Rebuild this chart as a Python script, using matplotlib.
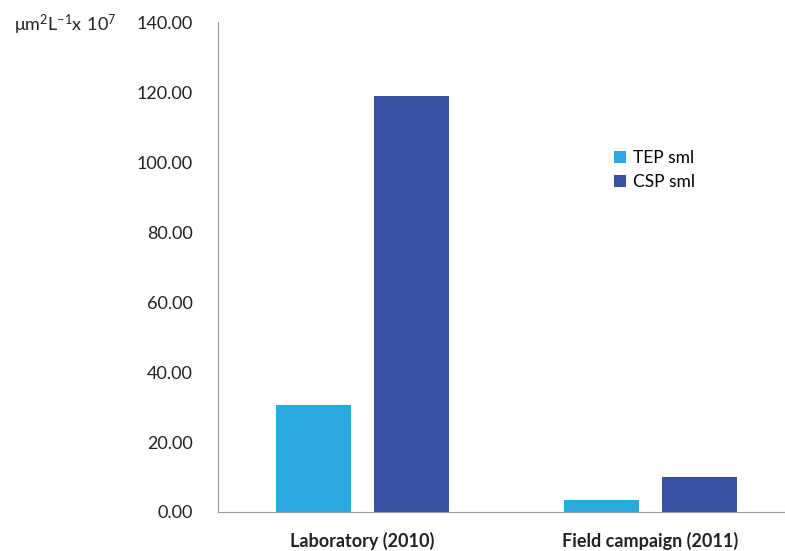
import numpy as np
import matplotlib.pyplot as plt

categories = ['Laboratory (2010)', 'Field campaign (2011)']
tep_sml = [30.6, 3.4]
csp_sml = [118.9, 10.0]
series_names = ['TEP sml', 'CSP sml']
yticks = np.arange(0, 141, 20)

plt.rcParams['font.family'] = ['Lato', 'DejaVu Sans']

fig = plt.figure(figsize=[7.85, 5.51], dpi=100)
ax = fig.add_axes([0.2777, 0.0708, 0.74, 0.889])

x = np.arange(len(categories))
w = 0.26
ax.bar(x - 0.17, tep_sml, width=w, color='#29abe2', label=series_names[0])
ax.bar(x + 0.17, csp_sml, width=w, color='#3a52a4', label=series_names[1])

ax.set_xlim(-0.5, 1.515)
ax.set_ylim(0, 140)
ax.set_yticks(yticks)
ax.set_yticklabels(['%.2f' % v for v in yticks], fontsize=13, color='#222222')
ax.set_xticks(x)
ax.set_xticklabels(categories, fontsize=13, fontweight='bold', color='#222222')
ax.tick_params(axis='both', length=0)
ax.tick_params(axis='y', pad=18)
ax.tick_params(axis='x', pad=14)

for s in ['top', 'right']:
    ax.spines[s].set_visible(False)
ax.spines['left'].set_color('#999999')
ax.spines['bottom'].set_color('#999999')

fig.text(0.018, 0.955, r'$\mathregular{\mu m^2 L^{-1} x\ 10^7}$', fontsize=13, color='#222222', va='center')

ax.legend(loc='upper left', bbox_to_anchor=(0.655, 0.77), frameon=False, fontsize=12.5,
          handlelength=0.7, handleheight=0.7, labelspacing=0.45, handletextpad=0.4)

plt.savefig('out.png', dpi=100)
